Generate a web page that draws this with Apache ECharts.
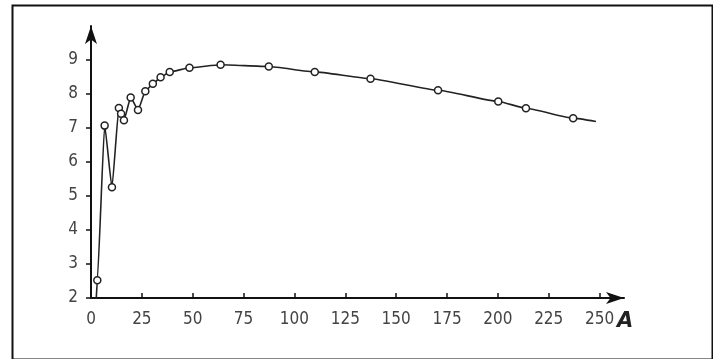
<!DOCTYPE html>
<html>
<head>
<meta charset="utf-8">
<script src="https://cdn.jsdelivr.net/npm/echarts@6/dist/echarts.min.js"></script>
<style>
  html, body { margin: 0; padding: 0; background: #fff; }
  #chart { width: 713px; height: 359px; }
</style>
</head>
<body>
<div id="chart"></div>
<script>
// measured points (A, value)
var pointsX = [3.1, 6.7, 10.3, 13.7, 14.8, 16.2, 19.5, 23.1, 26.7, 30.4, 34.2, 38.7, 48.4, 63.7, 87.4, 110, 137.4, 170.6, 200.2, 213.8, 237];
var pointsY = [2.52, 7.07, 5.26, 7.59, 7.42, 7.23, 7.9, 7.53, 8.08, 8.3, 8.49, 8.65, 8.77, 8.86, 8.81, 8.65, 8.45, 8.11, 7.78, 7.58, 7.29];
// where the drawn line begins and ends (no marker there)
var lineStart = [2.6, 2.0];
var lineEnd = [248.2, 7.19];
var xTicks = [0, 25, 50, 75, 100, 125, 150, 175, 200, 225, 250];
var yTicks = [2, 3, 4, 5, 6, 7, 8, 9];

var data = [{ value: lineStart, symbol: 'none' }];
for (var i = 0; i < pointsX.length; i++) {
    data.push([pointsX[i], pointsY[i]]);
}
data.push({ value: lineEnd, symbol: 'none' });

var myChart = echarts.init(document.getElementById('chart'));

var labelFont = {
    color: '#444',
    fontFamily: '"DejaVu Sans Condensed", "DejaVu Sans", sans-serif',
    fontWeight: 'normal',
    fontSize: 17
};

var option = {
    animation: false,
    backgroundColor: '#fff',
    grid: { left: 91, right: 89, top: 26, bottom: 61 },
    xAxis: {
        type: 'value',
        min: 0,
        max: 262,
        splitLine: { show: false },
        axisLine: {
            lineStyle: { color: '#111', width: 2 },
            symbol: ['none', 'arrow'],
            symbolSize: [9, 18]
        },
        axisTick: {
            inside: true,
            length: 5,
            lineStyle: { color: '#111', width: 1.5 },
            customValues: xTicks
        },
        axisLabel: Object.assign({ margin: 13, customValues: xTicks }, labelFont)
    },
    yAxis: {
        type: 'value',
        min: 2,
        max: 10,
        splitLine: { show: false },
        axisLine: {
            lineStyle: { color: '#111', width: 2 },
            symbol: ['none', 'arrow'],
            symbolSize: [9, 18]
        },
        axisTick: {
            length: 5,
            lineStyle: { color: '#111', width: 1.5 },
            customValues: yTicks
        },
        axisLabel: Object.assign({ margin: 13, customValues: yTicks }, labelFont)
    },
    series: [{
        type: 'line',
        data: data,
        smooth: 0.15,
        smoothMonotone: 'x',
        symbol: 'circle',
        symbolSize: 7,
        lineStyle: { color: '#222', width: 1.6 },
        itemStyle: { color: '#fff', borderColor: '#222', borderWidth: 1.5 },
        z: 3
    }],
    graphic: [
        {
            type: 'rect',
            left: 10, top: 3,
            shape: { width: 700, height: 354 },
            style: { fill: 'none', stroke: '#111', lineWidth: 2 }
        },
        {
            type: 'text',
            left: 617, top: 311,
            style: {
                text: 'A',
                fill: '#222',
                font: 'italic bold 21px "DejaVu Sans"'
            }
        }
    ]
};
myChart.setOption(option);
</script>
</body>
</html>
